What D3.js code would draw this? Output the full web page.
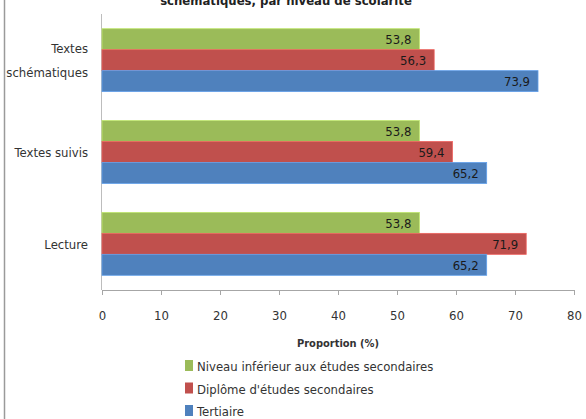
<!DOCTYPE html>
<html>
<head>
<meta charset="utf-8">
<script src="https://cdn.jsdelivr.net/npm/d3@7"></script>
<style>
  body { margin: 0; background: #fff; }
  text { font-family: "Liberation Sans Narrow", "DejaVu Sans Condensed", "Open Sans", sans-serif; }
</style>
</head>
<body>
<svg id="chart"></svg>
<script>
const width = 586;
const height = 419;

const categories = ["Textes schématiques", "Textes suivis", "Lecture"];
const seriesNames = ["Niveau inférieur aux études secondaires", "Diplôme d'études secondaires", "Tertiaire"];
const lowerValues = [53.8, 53.8, 53.8];
const secondaryValues = [56.3, 59.4, 71.9];
const tertiaryValues = [73.9, 65.2, 65.2];
const xTicks = [0, 10, 20, 30, 40, 50, 60, 70, 80];
const colors = ["#9BBB59", "#C0504D", "#4F81BD"];

const seriesValues = [lowerValues, secondaryValues, tertiaryValues];

const margin = { left: 102, right: 12, top: 14, bottom: 129 };

const svg = d3.select("#chart")
    .attr("width", width)
    .attr("height", height);

// frame edge on the left
svg.append("line")
    .attr("x1", 4.5).attr("x2", 4.5)
    .attr("y1", 0).attr("y2", height)
    .attr("stroke", "#9a9a9a")
    .attr("stroke-width", 1.5);

// title, only its lower part shows (as in the source image)
svg.append("text")
    .attr("x", 286)
    .attr("y", 5)
    .attr("text-anchor", "middle")
    .attr("font-size", 13)
    .attr("font-weight", "bold")
    .attr("fill", "#222")
    .text("schématiques, par niveau de scolarité");

const x = d3.scaleLinear()
    .domain([0, 80])
    .range([margin.left, width - margin.right]);

const y = d3.scaleBand()
    .domain(categories)
    .range([margin.top, height - margin.bottom])
    .paddingInner(0.315)
    .paddingOuter(0.16);

const ySub = d3.scaleBand()
    .domain(seriesNames)
    .range([0, y.bandwidth()]);

// x axis
const xAxis = svg.append("g")
    .attr("transform", "translate(0," + (height - margin.bottom) + ")")
    .call(d3.axisBottom(x).tickValues(xTicks).tickSize(5).tickSizeOuter(0).tickPadding(16));
xAxis.select(".domain").attr("stroke", "#a6a6a6");
xAxis.selectAll(".tick line").attr("stroke", "#a6a6a6");
xAxis.selectAll(".tick text")
    .attr("font-size", 13)
    .attr("fill", "#333")
    .attr("font-family", null);

// y axis line
svg.append("line")
    .attr("x1", x(0) - 0.5).attr("x2", x(0) - 0.5)
    .attr("y1", margin.top).attr("y2", height - margin.bottom)
    .attr("stroke", "#bdbdbd");

// category labels
categories.forEach(cat => {
    const cy = y(cat) + y.bandwidth() / 2;
    const words = cat === "Textes schématiques" ? ["Textes", "schématiques"] : [cat];
    const t = svg.append("text")
        .attr("text-anchor", "end")
        .attr("font-size", 13)
        .attr("fill", "#333");
    words.forEach((w, i) => {
        t.append("tspan")
            .attr("x", 88)
            .attr("y", cy + 5 + (i - (words.length - 1) / 2) * 24)
            .text(w);
    });
});

// bars
const groups = svg.selectAll("g.group")
    .data(categories)
    .enter().append("g")
    .attr("class", "group")
    .attr("transform", d => "translate(0," + y(d) + ")");

groups.each(function(cat, ci) {
    const g = d3.select(this);
    const rows = seriesNames.map((s, si) => ({ name: s, value: seriesValues[si][ci], color: colors[si] }));

    g.selectAll("rect")
        .data(rows)
        .enter().append("rect")
        .attr("x", x(0))
        .attr("y", d => ySub(d.name))
        .attr("width", d => x(d.value) - x(0))
        .attr("height", ySub.bandwidth())
        .attr("fill", d => d.color)
        .attr("stroke", d => d3.color(d.color).brighter(0.6))
        .attr("stroke-width", 0.8);

    g.selectAll("text")
        .data(rows)
        .enter().append("text")
        .attr("x", d => x(d.value) - 8)
        .attr("y", d => ySub(d.name) + ySub.bandwidth() / 2 + 5)
        .attr("text-anchor", "end")
        .attr("font-size", 13)
        .attr("fill", "#1a1a1a")
        .text(d => d.value.toFixed(1).replace(".", ","));
});

// axis title
svg.append("text")
    .attr("x", 338)
    .attr("y", 347)
    .attr("text-anchor", "middle")
    .attr("font-size", 11)
    .attr("font-weight", "bold")
    .attr("fill", "#333")
    .text("Proportion (%)");

// legend
const legend = svg.append("g")
    .attr("transform", "translate(185,360)");

legend.selectAll("rect")
    .data(seriesNames)
    .enter().append("rect")
    .attr("x", 0)
    .attr("y", (d, i) => i * 22.5)
    .attr("width", 8)
    .attr("height", 11)
    .attr("fill", (d, i) => colors[i]);

legend.selectAll("text")
    .data(seriesNames)
    .enter().append("text")
    .attr("x", 12)
    .attr("y", (d, i) => i * 22.5 + 11)
    .attr("font-size", 13)
    .attr("fill", "#333")
    .text(d => d);
</script>
</body>
</html>
